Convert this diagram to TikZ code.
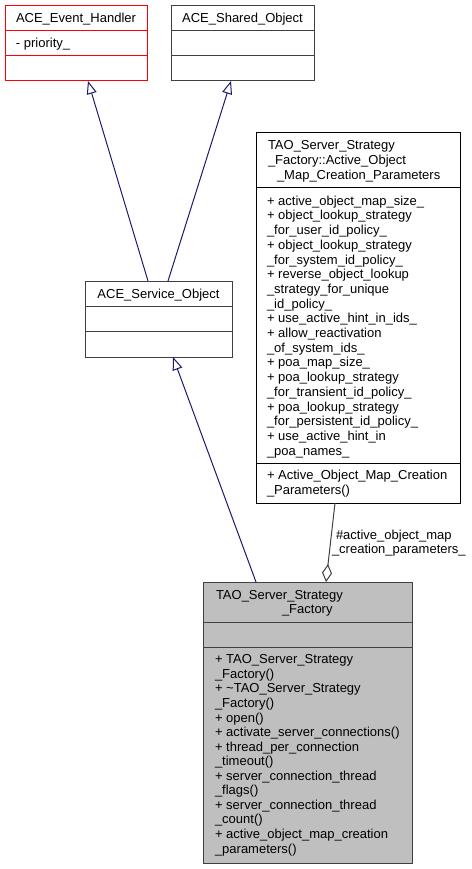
\documentclass[tikz,border=0pt]{standalone}
\usepackage{fontspec}
\setmainfont{Liberation Sans}
\usetikzlibrary{arrows.meta,calc}
\definecolor{edgeblue}{HTML}{191970}
\definecolor{dgray}{HTML}{404040}
\definecolor{mainfill}{HTML}{BFBFBF}
\tikzset{
  txt/.style={font=\fontsize{13}{14.7}\selectfont, inner sep=0pt, outer sep=0pt, anchor=base west},
  ttl/.style={txt, anchor=base},
  classbox/.style={draw, line width=1pt, inner sep=0pt, outer sep=0pt, anchor=north west},
  inh/.style={draw=edgeblue, line width=1pt, -{Triangle[length=13pt,width=10pt,fill=white]}},
  agg/.style={draw=dgray, line width=1pt, {Diamond[length=18pt,width=10pt,fill=white]}-},
}
\begin{document}
\begin{tikzpicture}[x=1pt,y=-1pt]
\useasboundingbox (0,0) rectangle (471,869);

% ACE_Event_Handler
\node[classbox, draw=red, minimum width=142pt, minimum height=75pt] (eh) at (5,6) {};
\draw[red, line width=1pt] ($(eh.north west)+(0,25)$) -- ($(eh.north east)+(0,25)$);
\draw[red, line width=1pt] ($(eh.north west)+(0,50)$) -- ($(eh.north east)+(0,50)$);
\node[ttl] (eht) at (76,23) {ACE\_Event\_Handler};
\node[txt] (eha) at (16,48) {- priority\_};

% ACE_Shared_Object
\node[classbox, draw=dgray, minimum width=143pt, minimum height=75pt] (so) at (171,6) {};
\draw[dgray, line width=1pt] ($(so.north west)+(0,25)$) -- ($(so.north east)+(0,25)$);
\draw[dgray, line width=1pt] ($(so.north west)+(0,50)$) -- ($(so.north east)+(0,50)$);
\node[ttl] (sot) at (242.5,23) {ACE\_Shared\_Object};

% ACE_Service_Object
\node[classbox, draw=dgray, minimum width=147pt, minimum height=76pt] (svc) at (85,281) {};
\draw[dgray, line width=1pt] ($(svc.north west)+(0,25)$) -- ($(svc.north east)+(0,25)$);
\draw[dgray, line width=1pt] ($(svc.north west)+(0,50)$) -- ($(svc.north east)+(0,50)$);
\node[ttl] (svct) at (158.5,298) {ACE\_Service\_Object};

% Parameters
\node[classbox, draw=black, minimum width=204pt, minimum height=370pt] (par) at (256,133) {};
\draw[black, line width=1pt] ($(par.north west)+(0,54)$) -- ($(par.north east)+(0,54)$);
\draw[black, line width=1pt] ($(par.north west)+(0,330)$) -- ($(par.north east)+(0,330)$);
\node[txt] (ph1) at (268,149.6) {TAO\_Server\_Strategy};
\node[txt] (ph2) at (268,164.3) {\_Factory::Active\_Object};
\node[txt] (ph3) at (277,179.0) {\_Map\_Creation\_Parameters};
\foreach \t [count=\i from 0] in {
  {+ active\_object\_map\_size\_},
  {+ object\_lookup\_strategy},
  {\_for\_user\_id\_policy\_},
  {+ object\_lookup\_strategy},
  {\_for\_system\_id\_policy\_},
  {+ reverse\_object\_lookup},
  {\_strategy\_for\_unique},
  {\_id\_policy\_},
  {+ use\_active\_hint\_in\_ids\_},
  {+ allow\_reactivation},
  {\_of\_system\_ids\_},
  {+ poa\_map\_size\_},
  {+ poa\_lookup\_strategy},
  {\_for\_transient\_id\_policy\_},
  {+ poa\_lookup\_strategy},
  {\_for\_persistent\_id\_policy\_},
  {+ use\_active\_hint\_in},
  {\_poa\_names\_}}
  \node[txt] (pa\i) at (267,{205.2+14.7*\i}) {\t};
\node[txt] (pm1) at (267,479.5) {+ Active\_Object\_Map\_Creation};
\node[txt] (pm2) at (267,494.2) {\_Parameters()};

% TAO_Server_Strategy_Factory
\node[classbox, draw=dgray, fill=mainfill, minimum width=209pt, minimum height=281pt] (main) at (203,582) {};
\draw[dgray, line width=1pt] ($(main.north west)+(0,40)$) -- ($(main.north east)+(0,40)$);
\draw[dgray, line width=1pt] ($(main.north west)+(0,65)$) -- ($(main.north east)+(0,65)$);
\node[txt] (mh1) at (216,599.2) {TAO\_Server\_Strategy};
\node[txt] (mh2) at (282,613.7) {\_Factory};
\foreach \t [count=\i from 0] in {
  {+ TAO\_Server\_Strategy},
  {\_Factory()},
  {+ \textasciitilde TAO\_Server\_Strategy},
  {\_Factory()},
  {+ open()},
  {+ activate\_server\_connections()},
  {+ thread\_per\_connection},
  {\_timeout()},
  {+ server\_connection\_thread},
  {\_flags()},
  {+ server\_connection\_thread},
  {\_count()},
  {+ active\_object\_map\_creation},
  {\_parameters()}}
  \node[txt] (mm\i) at (215,{663.8+14.56*\i}) {\t};

% Edges
\draw[inh] ($(svc.north west)+(63,0)$) -- ($(eh.south west)+(83,0)$);
\draw[inh] ($(svc.north west)+(83,0)$) -- ($(so.south west)+(60,0)$);
\draw[inh] ($(main.north west)+(53,0)$) -- ($(svc.south west)+(88,0)$);
\draw[agg] ($(main.north west)+(123,0)$) -- ($(par.south west)+(79,0)$);
\node[txt] (lb1) at (336,539) {\#active\_object\_map};
\node[txt] (lb2) at (332,553) {\_creation\_parameters\_};
\end{tikzpicture}
\end{document}
